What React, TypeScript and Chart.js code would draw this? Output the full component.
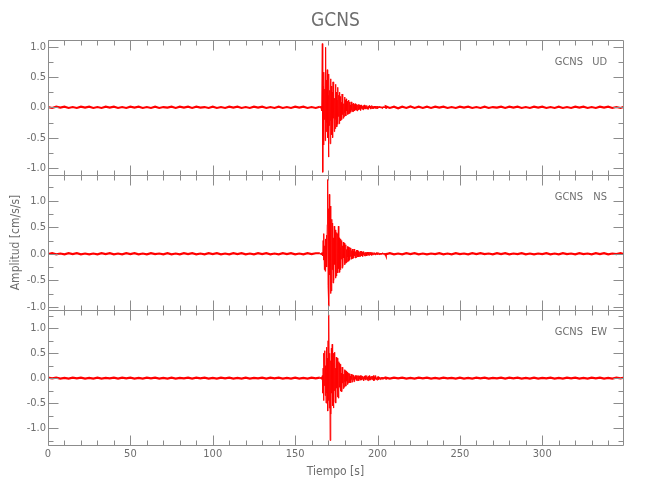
import React, { useEffect, useRef } from "react";
import { Chart, registerables } from "chart.js";

Chart.register(...registerables);

// ---------- texts ----------
const TITLE = "GCNS";
const STATION = "GCNS";
const COMPONENTS = ["UD", "NS", "EW"];
const X_TITLE = "Tiempo [s]";
const Y_TITLE = "Amplitud [cm/s/s]";

// ---------- axes ----------
const X_MIN = 0;
const X_MAX = 349;
const X_TICKS = [0, 50, 100, 150, 200, 250, 300];
const Y_TICKS = [-1.0, -0.5, 0.0, 0.5, 1.0];
const UD_RANGE = [-1.115, 1.11];
const NS_RANGE = [-1.06, 1.485];
const EW_RANGE = [-1.34, 1.366];

// ---------- sampling of the traces (s) ----------
const PRE_START = 0;
const PRE_STEP = 2.5;
const EVENT_START = 165;
const EVENT_STEP = 0.25;
const POST_START = 205;
const POST_STEP = 2.5;

// ---------- UD (vertical) ----------
const UD_PRE = [
  0.005, -0.01, 0.01, -0.005, 0.01, -0.01, 0.005, -0.01, 0.01, -0.005,
  0.01, -0.01, 0.005, -0.01, 0.01, -0.005, 0.01, -0.01, 0.005, -0.01,
  0.01, -0.005, 0.01, -0.01, 0.005, -0.01, 0.01, -0.01, 0.005, -0.005,
  0.01, -0.01, 0.01, -0.005, 0.01, -0.01, 0.01, -0.005, 0.005, -0.01,
  0.01, -0.01, 0.005, -0.01, 0.01, -0.005, 0.01, -0.01, 0.005, -0.01,
  0.01, -0.005, 0.01, -0.01, 0.005, -0.01, 0.01, -0.01, 0.005, -0.01,
  0.01, -0.005, 0.01, -0.01, 0.005, -0.01,
];
const UD_EVENT = [
  0.01, -0.01, 0.02, -0.01, 0.02, -0.06, 1.05, -1.07, 0.35, -0.62, 0.58, -0.2, 0.3, -0.55, 0.99, -0.4,
  0.45, -0.25, 0.62, -0.5, 0.2, -0.82, 0.55, -0.3, 0.28, -0.6, 0.47, -0.22, 0.35, -0.45, 0.25, -0.5,
  0.42, -0.18, 0.3, -0.4, 0.15, -0.35, 0.38, -0.2, 0.25, -0.32, 0.12, -0.28, 0.33, -0.15, 0.2, -0.27,
  0.25, -0.1, 0.18, -0.22, 0.08, -0.2, 0.22, -0.12, 0.16, -0.18, 0.06, -0.15, 0.17, -0.09, 0.12, -0.14,
  0.14, -0.06, 0.1, -0.12, 0.05, -0.11, 0.12, -0.07, 0.09, -0.1, 0.04, -0.08, 0.09, -0.05, 0.07, -0.07,
  0.06, -0.07, 0.07, -0.03, 0.05, -0.06, 0.06, -0.04, 0.03, -0.05, 0.05, -0.06, 0.04, -0.02, 0.05, -0.04,
  0.04, -0.03, 0.03, -0.05, 0.04, -0.02, 0.04, -0.03, 0.02, -0.04, 0.03, -0.03, 0.04, -0.02, 0.02, -0.03,
  0.03, -0.02, 0.03, -0.03, 0.01, -0.03, 0.02, -0.02, 0.03, -0.01, 0.02, -0.03, 0.02, -0.02, 0.03, -0.01,
  0.02, -0.02, 0.01, -0.02, 0.02, -0.01, 0.02, -0.02, 0.01, -0.02, 0.02, -0.01, 0.02, -0.02, 0.01, -0.01,
  0.01, -0.01, 0.02, -0.01, 0.01, -0.01, 0.01, -0.02, 0.01, -0.01, 0.01, -0.01, 0.01, -0.01, 0.01, -0.01,
];
const UD_POST = [
  0.015, -0.01, 0.01, -0.015, 0.01, -0.01, 0.015, -0.01, 0.01, -0.01,
  0.01, -0.01, 0.01, -0.005, 0.01, -0.01, 0.005, -0.01, 0.01, -0.005,
  0.01, -0.01, 0.005, -0.01, 0.01, -0.01, 0.005, -0.005, 0.01, -0.01,
  0.01, -0.005, 0.01, -0.01, 0.005, -0.01, 0.01, -0.005, 0.01, -0.01,
  0.005, -0.01, 0.01, -0.01, 0.005, -0.01, 0.01, -0.005, 0.01, -0.01,
  0.005, -0.01, 0.01, -0.005, 0.01, -0.01, 0.005, -0.01, 0.01,
];

// ---------- NS ----------
const NS_PRE = [
  -0.005, 0.01, -0.01, 0.005, -0.01, 0.01, -0.005, 0.01, -0.01, 0.005,
  -0.01, 0.005, -0.01, 0.01, -0.005, 0.01, -0.01, 0.005, -0.01, 0.01,
  -0.005, 0.01, -0.01, 0.005, -0.01, 0.01, -0.005, 0.005, -0.01, 0.01,
  -0.01, 0.005, -0.01, 0.01, -0.005, 0.01, -0.01, 0.005, -0.01, 0.01,
  -0.005, 0.01, -0.01, 0.005, -0.01, 0.01, -0.005, 0.01, -0.01, 0.005,
  -0.01, 0.01, -0.005, 0.01, -0.01, 0.005, -0.01, 0.01, -0.005, 0.01,
  -0.01, 0.005, -0.01, 0.01, -0.005, 0.01,
];
const NS_EVENT = [
  0.01, -0.01, 0.01, -0.01, 0.02, -0.02, 0.02, -0.04, 0.25, -0.12, 0.38, -0.3, 0.15, -0.33, 0.28, -0.1,
  0.35, -0.25, 0.55, 1.4, -0.6, 0.85, -0.99, 1.12, -0.4, 0.9, -0.75, 0.45, -0.7, 0.65, -0.3, 0.58,
  -0.55, 0.3, -0.5, 0.52, -0.2, 0.45, -0.46, 0.25, -0.42, 0.4, -0.15, 0.38, -0.36, 0.52, -0.28, 0.3,
  -0.35, 0.12, -0.3, 0.28, -0.1, 0.25, -0.27, 0.15, -0.24, 0.22, -0.08, 0.2, -0.21, 0.1, -0.18, 0.17,
  -0.17, 0.08, -0.15, 0.14, -0.06, 0.13, -0.14, 0.07, -0.12, 0.12, -0.05, 0.11, -0.1, 0.06, -0.1, 0.09,
  -0.09, 0.05, -0.08, 0.09, -0.04, 0.08, -0.08, 0.04, -0.07, 0.07, -0.03, 0.07, -0.06, 0.04, -0.06, 0.05,
  -0.05, 0.03, -0.05, 0.05, -0.02, 0.05, -0.04, 0.03, -0.05, 0.04, -0.02, 0.04, -0.04, 0.02, -0.04, 0.03,
  -0.03, 0.02, -0.04, 0.03, -0.01, 0.03, -0.03, 0.02, -0.03, 0.03, -0.01, 0.03, -0.02, 0.02, -0.03, 0.02,
  -0.02, 0.01, -0.02, 0.02, -0.01, 0.02, -0.02, 0.01, -0.02, 0.02, -0.01, 0.02, -0.02, 0.01, -0.01, 0.02,
  -0.01, 0.01, -0.02, 0.01, -0.01, 0.01, -0.01, 0.01, -0.01, 0.02, -0.01, 0.01, -0.01, 0.01, -0.01, 0.01,
];
const NS_POST = [
  -0.01, 0.01, -0.01, 0.005, -0.01, 0.01, -0.005, 0.01, -0.01, 0.005,
  -0.01, 0.005, -0.005, 0.01, -0.01, 0.005, -0.01, 0.01, -0.005, 0.005,
  -0.01, 0.01, -0.005, 0.01, -0.005, 0.005, -0.01, 0.01, -0.005, 0.01,
  -0.01, 0.005, -0.005, 0.01, -0.01, 0.005, -0.01, 0.005, -0.005, 0.01,
  -0.01, 0.005, -0.01, 0.01, -0.005, 0.005, -0.01, 0.01, -0.005, 0.005,
  -0.01, 0.01, -0.005, 0.01, -0.01, 0.005, -0.005, 0.01, -0.01,
];

// ---------- EW ----------
const EW_PRE = [
  0.01, -0.005, 0.01, -0.01, 0.005, -0.01, 0.01, -0.005, 0.01, -0.01,
  0.005, -0.01, 0.01, -0.01, 0.005, -0.005, 0.01, -0.01, 0.01, -0.005,
  0.01, -0.01, 0.005, -0.01, 0.01, -0.005, 0.01, -0.01, 0.005, -0.01,
  0.01, -0.01, 0.005, -0.005, 0.01, -0.01, 0.01, -0.005, 0.01, -0.01,
  0.005, -0.01, 0.01, -0.005, 0.01, -0.01, 0.005, -0.01, 0.01, -0.01,
  0.005, -0.005, 0.01, -0.01, 0.01, -0.005, 0.01, -0.01, 0.005, -0.01,
  0.01, -0.01, 0.005, -0.01, 0.01, -0.005,
];
const EW_EVENT = [
  0.01, -0.01, 0.02, -0.01, 0.02, -0.02, 0.05, -0.3, 0.2, -0.45, 0.5, -0.15, 0.55, -0.35, 0.25, -0.5,
  0.62, -0.3, 0.4, -0.66, 0.75, -0.45, 1.27, -0.6, 0.5, -1.25, 0.35, -0.72, 0.6, -0.3, 0.68, -0.55,
  0.3, -0.6, 0.5, -0.25, 0.52, -0.48, 0.2, -0.5, 0.42, -0.2, 0.4, -0.38, 0.15, -0.4, 0.33, -0.18,
  0.3, -0.15, 0.28, -0.26, 0.1, -0.27, 0.22, -0.1, 0.2, -0.21, 0.08, -0.18, 0.17, -0.07, 0.15, -0.16,
  0.14, -0.06, 0.12, -0.13, 0.05, -0.1, 0.1, -0.05, 0.09, -0.09, 0.04, -0.09, 0.08, -0.03, 0.07, -0.08,
  0.07, -0.03, 0.06, -0.07, 0.03, -0.05, 0.05, -0.02, 0.05, -0.05, 0.03, -0.05, 0.05, -0.02, 0.05, -0.05,
  0.04, -0.02, 0.05, -0.04, 0.02, -0.04, 0.05, -0.02, 0.04, -0.04, 0.02, -0.05, 0.04, -0.02, 0.05, -0.04,
  0.04, -0.02, 0.05, -0.04, 0.02, -0.05, 0.04, -0.02, 0.05, -0.04, 0.02, -0.04, 0.03, -0.02, 0.04, -0.03,
  0.04, -0.02, 0.05, -0.05, 0.02, -0.04, 0.05, -0.02, 0.04, -0.03, 0.01, -0.04, 0.03, -0.01, 0.03, -0.03,
  0.02, -0.01, 0.02, -0.03, 0.01, -0.02, 0.02, -0.01, 0.02, -0.02, 0.01, -0.02, 0.02, -0.01, 0.02, -0.01,
];
const EW_POST = [
  0.01, -0.01, 0.01, -0.005, 0.01, -0.01, 0.005, -0.01, 0.01, -0.005,
  0.01, -0.01, 0.005, -0.01, 0.01, -0.005, 0.005, -0.01, 0.01, -0.01,
  0.005, -0.01, 0.01, -0.005, 0.01, -0.01, 0.005, -0.005, 0.01, -0.01,
  0.01, -0.005, 0.01, -0.01, 0.005, -0.01, 0.01, -0.01, 0.005, -0.005,
  0.01, -0.01, 0.005, -0.01, 0.01, -0.005, 0.01, -0.01, 0.005, -0.01,
  0.01, -0.005, 0.01, -0.01, 0.005, -0.01, 0.01, -0.005, 0.01,
];

// ---------- styling ----------
const RED = "rgb(255,0,0)";
const AXIS_COLOR = "#8c8c8c";
const TEXT_COLOR = "#6e6e6e";
const FONT = "'Liberation Sans Narrow', 'DejaVu Sans Condensed', 'Liberation Sans', sans-serif";
const PANEL_IDS = ["y1", "y2", "y3"];
const Y_MAJOR = 0.5;
const Y_MINOR = 0.25;
const X_MAJOR = 50;
const X_MINOR = 10;

type Pt = { x: number; y: number };

function buildTrace(pre: number[], ev: number[], post: number[]): Pt[] {
  const pts: Pt[] = [];
  pre.forEach((v, i) => pts.push({ x: PRE_START + i * PRE_STEP, y: v }));
  ev.forEach((v, i) => pts.push({ x: EVENT_START + i * EVENT_STEP, y: v }));
  post.forEach((v, i) => pts.push({ x: POST_START + i * POST_STEP, y: v }));
  return pts;
}

const TRACES = [
  buildTrace(UD_PRE, UD_EVENT, UD_POST),
  buildTrace(NS_PRE, NS_EVENT, NS_POST),
  buildTrace(EW_PRE, EW_EVENT, EW_POST),
];
const RANGES = [UD_RANGE, NS_RANGE, EW_RANGE];

const panelFrame = {
  id: "panelFrame",
  afterDatasetsDraw(chart: any) {
    const { ctx, chartArea, scales } = chart;
    const xs = scales.x;
    const L = Math.round(chartArea.left) + 0.5;
    const R = Math.round(chartArea.right) + 0.5;
    ctx.save();
    ctx.strokeStyle = AXIS_COLOR;
    ctx.lineWidth = 1;
    ctx.beginPath();
    PANEL_IDS.forEach((id) => {
      const ys = scales[id];
      const T = Math.round(ys.top) + 0.5;
      const B = Math.round(ys.bottom) + 0.5;
      ctx.moveTo(L, T);
      ctx.lineTo(R, T);
      ctx.lineTo(R, B);
      ctx.lineTo(L, B);
      ctx.closePath();
      for (let v = Math.ceil(ys.min / Y_MINOR) * Y_MINOR; v <= ys.max + 1e-9; v += Y_MINOR) {
        const major = Math.abs(v / Y_MAJOR - Math.round(v / Y_MAJOR)) < 1e-6;
        const len = major ? 10 : 5;
        const py = Math.round(ys.getPixelForValue(v)) + 0.5;
        ctx.moveTo(L, py);
        ctx.lineTo(L + len, py);
        ctx.moveTo(R, py);
        ctx.lineTo(R - len, py);
      }
      for (let v = X_MIN; v <= xs.max; v += X_MINOR) {
        const len = v % X_MAJOR === 0 ? 10 : 5;
        const px = Math.round(xs.getPixelForValue(v)) + 0.5;
        ctx.moveTo(px, T);
        ctx.lineTo(px, T + len);
        ctx.moveTo(px, B);
        ctx.lineTo(px, B - len);
      }
    });
    ctx.stroke();
    ctx.fillStyle = TEXT_COLOR;
    ctx.font = `11px ${FONT}`;
    ctx.textAlign = "right";
    ctx.textBaseline = "middle";
    PANEL_IDS.forEach((id, i) => {
      const ys = scales[id];
      const y = ys.top + 22;
      ctx.fillText(STATION, chartArea.right - 40, y);
      ctx.fillText(COMPONENTS[i], chartArea.right - 16, y);
    });
    ctx.restore();
  },
};

function yScale(i: number) {
  const id = PANEL_IDS[i];
  return {
    type: "linear",
    position: "left",
    stack: "panels",
    stackWeight: 1,
    min: RANGES[i][0],
    max: RANGES[i][1],
    grid: { display: false, drawTicks: false },
    border: { display: false },
    afterBuildTicks: (s: any) => {
      s.ticks = Y_TICKS.map((v) => ({ value: v }));
    },
    afterFit: (s: any) => {
      s.width = 48;
    },
    ticks: {
      autoSkip: false,
      padding: 2,
      color: TEXT_COLOR,
      font: { family: FONT, size: 11 },
      callback: (v: number) => Number(v).toFixed(1),
    },
    title: id === "y2"
      ? { display: true, text: Y_TITLE, color: TEXT_COLOR, font: { family: FONT, size: 12 }, padding: { top: 9, bottom: 0 } }
      : { display: false },
  };
}

export default function App() {
  const ref = useRef<HTMLCanvasElement>(null);
  useEffect(() => {
    const inEvent = (c: any) => c.p0.parsed.x >= EVENT_START && c.p1.parsed.x < POST_START;
    const chart = new Chart(ref.current as HTMLCanvasElement, {
      type: "line",
      data: {
        datasets: TRACES.map((pts, i) => ({
          label: `${STATION} ${COMPONENTS[i]}`,
          data: pts,
          yAxisID: PANEL_IDS[i],
          xAxisID: "x",
          borderColor: RED,
          borderWidth: 1,
          pointRadius: 0,
          tension: 0,
          segment: { borderWidth: (c: any) => (inEvent(c) ? 1 : 2.2) },
        })),
      },
      options: {
        animation: false,
        responsive: false,
        events: [],
        layout: { padding: { left: 0, right: 27, top: 0, bottom: 0 } },
        plugins: {
          legend: { display: false },
          tooltip: { enabled: false },
          title: {
            display: true,
            text: TITLE,
            fullSize: false,
            color: TEXT_COLOR,
            font: { family: FONT, size: 19, weight: "normal", lineHeight: 1 },
            padding: { top: 12, bottom: 9 },
          },
        },
        scales: {
          x: {
            type: "linear",
            position: "bottom",
            min: X_MIN,
            max: X_MAX,
            grid: { display: false, drawTicks: false },
            border: { display: false },
            afterBuildTicks: (s: any) => {
              s.ticks = X_TICKS.map((v) => ({ value: v }));
            },
            afterFit: (s: any) => {
              s.height = 55;
            },
            ticks: {
              autoSkip: false,
              maxRotation: 0,
              padding: 3,
              color: TEXT_COLOR,
              font: { family: FONT, size: 11 },
              callback: (v: number) => String(v),
            },
            title: {
              display: true,
              text: X_TITLE,
              color: TEXT_COLOR,
              font: { family: FONT, size: 12 },
              padding: { top: 0, bottom: 21 },
            },
          },
          y3: yScale(2),
          y2: yScale(1),
          y1: yScale(0),
        } as any,
      },
      plugins: [panelFrame],
    } as any);
    return () => chart.destroy();
  }, []);
  return (
    <div style={{ position: "absolute", left: 0, top: 0, width: 650, height: 500, background: "#fff" }}>
      <canvas ref={ref} width={650} height={500} style={{ display: "block" }} />
    </div>
  );
}
